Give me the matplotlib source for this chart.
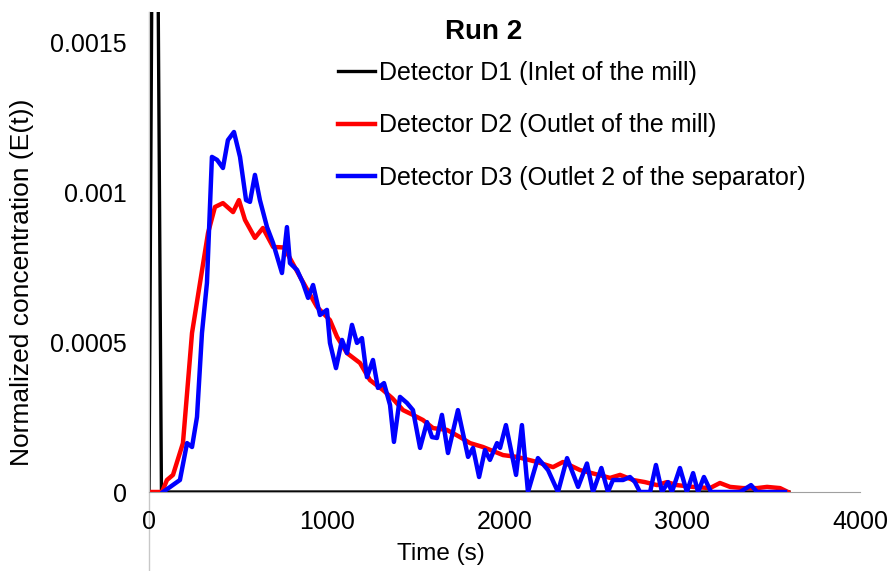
import matplotlib
matplotlib.use("Agg")
import matplotlib.pyplot as plt

plt.rcParams['font.family'] = ['Liberation Sans', 'DejaVu Sans']

# Detector D1 (inlet) - a sharp pulse at the start
d1_t = [0, 32, 70, 3600]
d1_y = [0, 0.0034, 0, 0]

# Detector D2 (outlet of the mill)
d2_t = [0, 73, 101, 135, 191, 242, 287, 332, 371, 416, 473, 506, 540, 596, 641, 698,
        760, 850, 945, 1018, 1058, 1114, 1187, 1243, 1316, 1370, 1429, 1485, 1541, 1598,
        1676, 1750, 1806, 1879, 1992, 2070, 2183, 2273, 2329, 2425, 2510, 2594, 2650,
        2723, 2790, 2858, 2914, 2970, 3061, 3156, 3212, 3269, 3342, 3421, 3477, 3550, 3595]
d2_y = [0, 0, 4e-5, 5.7e-5, 1.63e-4, 5.3e-4, 6.97e-4, 8.63e-4, 9.5e-4, 9.63e-4, 9.33e-4,
        9.73e-4, 9.07e-4, 8.47e-4, 8.8e-4, 8.17e-4, 8.15e-4, 7.17e-4, 6.17e-4, 5.73e-4,
        5.17e-4, 4.63e-4, 4.3e-4, 3.73e-4, 3.4e-4, 3.12e-4, 2.73e-4, 2.57e-4, 2.4e-4,
        2.13e-4, 2.07e-4, 1.83e-4, 1.63e-4, 1.5e-4, 1.23e-4, 1.17e-4, 1e-4, 8.3e-5, 1e-4,
        7.3e-5, 6e-5, 4.7e-5, 5.7e-5, 4e-5, 3.3e-5, 2.3e-5, 3.3e-5, 2.3e-5, 1.7e-5, 1.3e-5,
        3e-5, 1.7e-5, 1.3e-5, 1.3e-5, 1.7e-5, 1.3e-5, 0]

# Detector D3 (outlet 2 of the separator)
d3_t = [79, 174, 214, 242, 270, 298, 326, 354, 383, 416, 444, 478, 512, 546, 568, 596,
        624, 664, 698, 748, 776, 793, 833, 866, 895, 923, 962, 1001, 1018, 1052, 1086,
        1114, 1142, 1170, 1198, 1226, 1260, 1288, 1322, 1356, 1378, 1412, 1451, 1485,
        1525, 1564, 1592, 1620, 1648, 1682, 1738, 1795, 1823, 1857, 1890, 1918, 1958,
        1975, 2008, 2065, 2098, 2132, 2188, 2245, 2301, 2352, 2414, 2464, 2498, 2545,
        2582, 2610, 2667, 2706, 2734, 2762, 2819, 2852, 2886, 2920, 2942, 2987, 3026,
        3061, 3089, 3122, 3162, 3325, 3387, 3421, 3578]
d3_y = [0, 4e-5, 1.63e-4, 1.5e-4, 2.5e-4, 5.3e-4, 6.97e-4, 1.117e-3, 1.107e-3, 1.08e-3,
        1.173e-3, 1.2e-3, 1.117e-3, 9.73e-4, 9.67e-4, 1.057e-3, 9.73e-4, 8.83e-4, 8.3e-4,
        7.3e-4, 8.83e-4, 7.63e-4, 7.4e-4, 6.97e-4, 6.47e-4, 6.9e-4, 5.9e-4, 6.07e-4,
        4.97e-4, 4.13e-4, 5.07e-4, 4.63e-4, 5.57e-4, 4.97e-4, 5.13e-4, 3.83e-4, 4.4e-4,
        3.47e-4, 3.63e-4, 2.9e-4, 1.67e-4, 3.17e-4, 2.97e-4, 2.73e-4, 1.47e-4, 2.33e-4,
        1.83e-4, 1.8e-4, 2.57e-4, 1.3e-4, 2.73e-4, 1.17e-4, 1.47e-4, 5e-5, 1.4e-4, 1.07e-4,
        1.63e-4, 1.47e-4, 2.23e-4, 5.7e-5, 2.23e-4, 0, 1.13e-4, 7.3e-5, 0, 1.13e-4, 1.7e-5,
        9.5e-5, 0, 8e-5, 0, 4e-5, 4e-5, 5e-5, 3.3e-5, 0, 0, 9e-5, 0, 3.3e-5, 0, 8e-5, 0,
        6.3e-5, 0, 5e-5, 0, 0, 2.3e-5, 0, 0]

labels = ["Detector D1 (Inlet of the mill)",
          "Detector D2 (Outlet of the mill)",
          "Detector D3 (Outlet 2 of the separator)"]
x_ticks = [0, 1000, 2000, 3000, 4000]
y_ticks = [0, 0.0005, 0.001, 0.0015]
y_tick_labels = ["0", "0.0005", "0.001", "0.0015"]

W, H = 888, 571
fig = plt.figure(figsize=(W / 100, H / 100), dpi=100)
ax = fig.add_axes([149 / W, 1 - 492 / H, (860 - 149) / W, (492 - 12) / H])

ax.plot(d1_t, d1_y, color="black", lw=2.4, label=labels[0], solid_joinstyle="round")
ax.plot(d2_t, d2_y, color="#ff0000", lw=3.2, label=labels[1], solid_joinstyle="round")
ax.plot(d3_t, d3_y, color="#0000ff", lw=3.2, label=labels[2], solid_joinstyle="round")

ax.set_xlim(0, 4000)
ax.set_ylim(0, 0.0016)
ax.set_xticks(x_ticks)
ax.set_xticklabels([str(v) for v in x_ticks])
ax.set_yticks(y_ticks)
ax.set_yticklabels(y_tick_labels)
ax.tick_params(axis="both", length=0, labelsize=18)
ax.tick_params(axis="x", pad=13)
ax.tick_params(axis="y", pad=16)

for s in ("top", "right"):
    ax.spines[s].set_visible(False)
ax.spines["bottom"].set_color("#a0a0a0")
ax.spines["left"].set_color("#c8c8c8")
ax.axvline(0, ymin=-0.2, ymax=1, color="#c8c8c8", lw=1, clip_on=False, zorder=0)

fig.text(22 / W, 1 - 282 / H, "Normalized concentration (E(t))", rotation=90,
         ha="center", va="center", fontsize=19)
fig.text(441 / W, 1 - 554 / H, "Time (s)", ha="center", va="center", fontsize=17.5)
fig.text(484 / W, 1 - 32 / H, "Run 2", ha="center", va="center", fontsize=20,
         fontweight="bold")

ax.legend(loc="upper left", bbox_to_anchor=(338 / W, 1 - 61 / H),
          bbox_transform=fig.transFigure, frameon=False, fontsize=18,
          handlelength=1.48, handletextpad=0.15, labelspacing=1.13,
          borderpad=0, borderaxespad=0)

fig.savefig("out.png", dpi=100)
